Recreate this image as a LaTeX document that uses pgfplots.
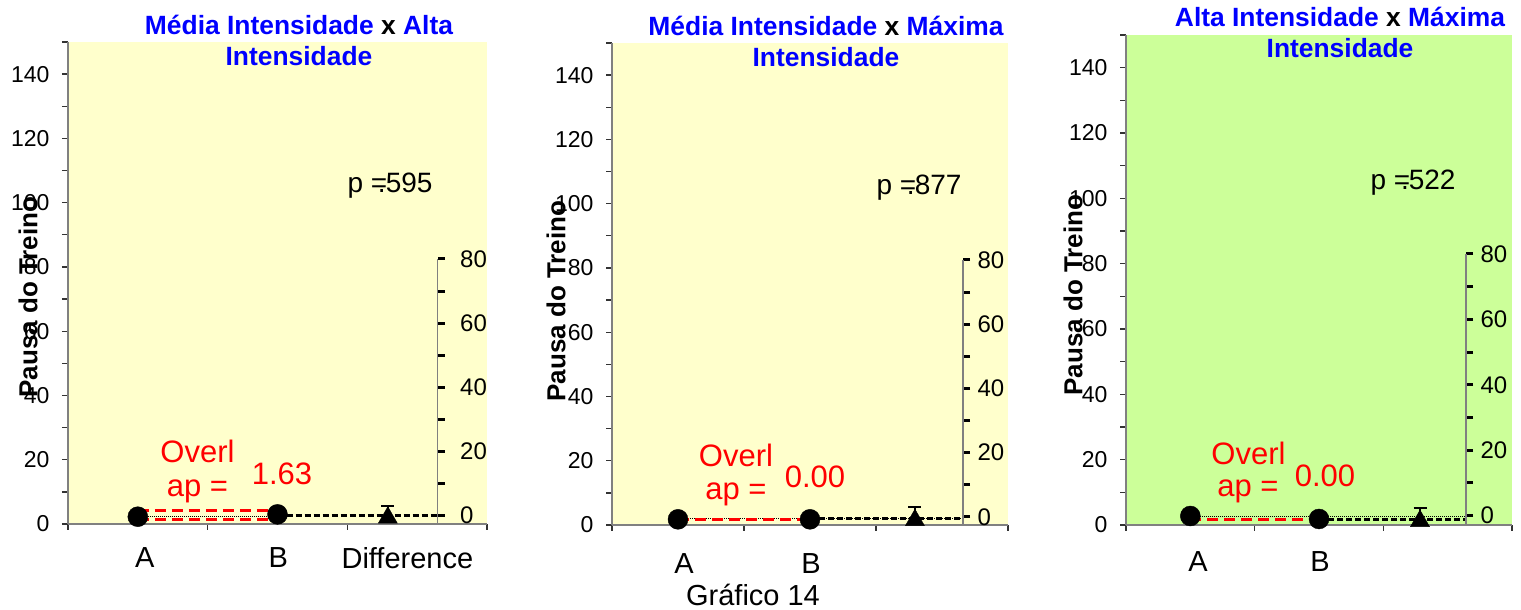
\documentclass[border=0pt]{standalone}
\usepackage{fontspec}
\setmainfont{Liberation Sans}
\usepackage{pgfplots}
\pgfplotsset{compat=1.18}

\definecolor{paleyellow}{HTML}{FFFFCC}
\definecolor{palegreen}{HTML}{CCFF99}
\definecolor{axisgray}{HTML}{808080}
\definecolor{ttlblue}{HTML}{0000FF}
\definecolor{ovred}{HTML}{FF0000}

\pgfplotsset{
  panel/.style={
    scale only axis, anchor=south west, clip=false,
    xmin=0, xmax=3, ymin=0, ymax=150,
    axis x line*=bottom, axis y line*=left,
    axis line style={draw=axisgray, line width=1.5pt},
    tick align=outside,
    ytick={0,20,...,140}, minor ytick={10,30,...,150},
    major tick length=6pt, minor tick length=6pt,
    every tick/.style={draw=black!80, line width=1.3pt},
    xtick={0,1,2,3}, xticklabels={,,,},
    extra x tick style={major tick length=0pt,
      xticklabel style={font=\fontsize{29}{34}\selectfont, yshift=#1}},
    yticklabel style={font=\fontsize{23}{27}\selectfont, xshift=-9pt},
    /pgf/number format/assume math mode=true,
  },
  diffaxis/.style={
    scale only axis, anchor=south west, width=1pt,
    xmin=0, xmax=1, ymax=80,
    axis y line*=right, axis x line=none,
    axis line style={draw=axisgray, line width=1.5pt},
    tick align=outside,
    ytick={0,20,...,80}, minor ytick={10,30,...,70},
    major tick length=7pt, minor tick length=7pt,
    every tick/.style={draw=black, line width=3pt},
    yticklabel style={font=\fontsize{24}{28}\selectfont, xshift=#1},
    /pgf/number format/assume math mode=true,
  },
  meanmark/.style={only marks, mark=*, mark size=10pt,
    mark options={fill=black, draw=black}},
  diffmark/.style={only marks, mark=triangle*, mark size=11pt, black,
    mark options={fill=black, draw=black},
    error bars/.cd, y dir=plus, y explicit,
    error bar style={line width=2pt, black},
    error mark options={rotate=90, mark size=6.5pt, line width=2pt, black}},
  reddash/.style={ovred, line width=3pt, dash pattern=on 11pt off 6pt, no marks},
  blkdash/.style={black, line width=3pt, dash pattern=on 6pt off 3pt, no marks},
  thinline/.style={black, line width=0.8pt, dash pattern=on 1pt off 1pt, no marks},
}

\begin{document}
\begin{tikzpicture}[x=1pt,y=1pt]
\useasboundingbox (0pt,0pt) rectangle (1521pt,610pt);

% ---------------- Média x Alta ----------------
\begin{axis}[panel={-20pt}, at={(68pt,86pt)}, width=419pt, height=482pt,
  axis background/.style={fill=paleyellow},
  extra x ticks={0.55,1.505,2.43},
  extra x tick labels={A,B,Difference}]
  \addplot[meanmark] coordinates {(0.5,2.27) (1.5,3.0)};
  \addplot[thinline] coordinates {(0.5,2.4) (1.5,2.4)};
  \addplot[reddash] coordinates {(0.5,4.1) (1.5,4.1)};
  \addplot[reddash] coordinates {(0.5,1.46) (1.5,1.46)};
  \addplot[blkdash] coordinates {(1.5,2.7) (2.647,2.7)};
  \addplot[diffmark] coordinates {(2.29,1.96) +- (0,3.64)};
\end{axis}
\begin{axis}[diffaxis={12pt}, at={(436.7pt,86pt)}, height=265pt, ymin=-2.65]
  \addplot[draw=none] coordinates {(0,0)};
\end{axis}

% ---------------- Média x Máxima ----------------
\begin{axis}[panel={-25pt}, at={(612pt,85pt)}, width=396pt, height=482pt,
  axis background/.style={fill=paleyellow},
  extra x ticks={0.545,1.508},
  extra x tick labels={A,B}]
  \addplot[meanmark] coordinates {(0.5,1.77) (1.5,1.77)};
  \addplot[thinline] coordinates {(0.5,1.95) (2.659,1.95)};
  \addplot[reddash] coordinates {(0.5,1.77) (1.5,1.77)};
  \addplot[blkdash] coordinates {(1.5,1.87) (2.659,1.87)};
  \addplot[diffmark] coordinates {(2.295,1.5) +- (0,4.0)};
\end{axis}
\begin{axis}[diffaxis={4pt}, at={(962pt,85pt)}, height=265pt, ymin=-2.5]
  \addplot[draw=none] coordinates {(0,0)};
\end{axis}

% ---------------- Alta x Máxima ----------------
\begin{axis}[panel={-23pt}, at={(1126pt,85pt)}, width=386pt, height=490pt,
  axis background/.style={fill=palegreen},
  extra x ticks={0.56,1.508},
  extra x tick labels={A,B}]
  \addplot[meanmark] coordinates {(0.5,2.75) (1.5,1.84)};
  \addplot[thinline] coordinates {(0.5,2.6) (2.642,2.6)};
  \addplot[reddash] coordinates {(0.5,1.75) (1.5,1.75)};
  \addplot[blkdash] coordinates {(1.5,1.75) (2.642,1.75)};
  \addplot[diffmark] coordinates {(2.285,1.2) +- (0,3.9)};
\end{axis}
\begin{axis}[diffaxis={4pt}, at={(1465pt,85pt)}, height=271pt, ymin=-2.9]
  \addplot[draw=none] coordinates {(0,0)};
\end{axis}

% titles
\begin{scope}[every node/.style={align=center, text=ttlblue,
    font=\bfseries\fontsize{26.4}{31}\selectfont}]
  \node at (299pt,570pt) {Média Intensidade {\color{black}x} Alta\\Intensidade};
  \node at (826pt,569pt) {Média Intensidade {\color{black}x} Máxima\\Intensidade};
  \node at (1340pt,577.5pt) {Alta Intensidade {\color{black}x} Máxima\\Intensidade};
\end{scope}

% y-axis titles
\begin{scope}[every node/.style={rotate=90, font=\bfseries\fontsize{26}{30}\selectfont}]
  \node at (28pt,313pt) {Pausa do Treino};
  \node at (556pt,309pt) {Pausa do Treino};
  \node at (1073pt,315pt) {Pausa do Treino};
\end{scope}

% overlap annotations
\begin{scope}[every node/.style={anchor=base, text=ovred, inner sep=0pt,
    font=\fontsize{31}{36}\selectfont}]
  \node at (197.5pt,147pt) {Overl};
  \node at (197.5pt,113pt) {ap =};
  \node at (282pt,125pt) {1.63};
  \node at (736pt,143pt) {Overl};
  \node at (736pt,110pt) {ap =};
  \node at (815pt,122pt) {0.00};
  \node at (1248.5pt,145pt) {Overl};
  \node at (1248pt,113pt) {ap =};
  \node at (1325pt,123pt) {0.00};
\end{scope}

% p values
\begin{scope}[every node/.style={anchor=base, inner sep=0pt,
    font=\fontsize{28}{32}\selectfont}]
  \node at (390pt,417pt) {p =\kern-0.33em.595};
  \node at (919pt,415pt) {p =\kern-0.33em.877};
  \node at (1413pt,420pt) {p =\kern-0.33em.522};
\end{scope}

\node[anchor=base, inner sep=0pt, font=\fontsize{29}{34}\selectfont] at (753pt,4pt) {Gráfico 14};
\end{tikzpicture}
\end{document}
